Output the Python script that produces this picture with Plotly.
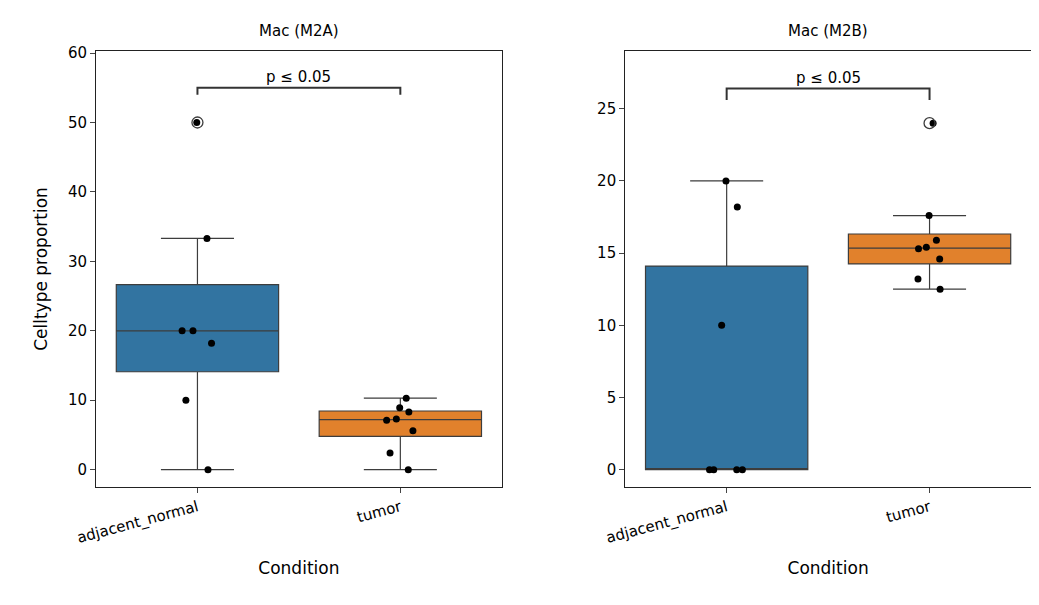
import numpy as np
import plotly.graph_objects as go

categories = ["adjacent_normal", "tumor"]
m2a_normal = [50, 33.3, 20, 20, 18.2, 10, 0]
m2a_tumor = [10.3, 8.9, 8.3, 7.3, 7.1, 5.6, 2.4, 0]
m2b_normal = [20, 18.2, 10, 0, 0, 0, 0]
m2b_tumor = [24, 17.6, 15.9, 15.4, 15.3, 14.6, 13.2, 12.5]
titles = ["Mac (M2A)", "Mac (M2B)"]
colors = ["#3274a1", "#e1812c"]

fig = go.Figure()
panels = [[m2a_normal, m2a_tumor], [m2b_normal, m2b_tumor]]

for p, groups in enumerate(panels):
    xa = "x" if p == 0 else "x2"
    ya = "y" if p == 0 else "y2"
    for i, vals in enumerate(groups):
        v = np.array(vals, dtype=float)
        q1, med, q3 = np.percentile(v, [25, 50, 75])
        iqr = q3 - q1
        inside = v[(v >= q1 - 1.5 * iqr) & (v <= q3 + 1.5 * iqr)]
        out = v[(v < q1 - 1.5 * iqr) | (v > q3 + 1.5 * iqr)]
        fig.add_trace(go.Box(
            x=[i], q1=[q1], median=[med], q3=[q3],
            lowerfence=[inside.min()], upperfence=[inside.max()],
            boxpoints=False, fillcolor=colors[i],
            line=dict(color="#3d3d3d", width=1.2), width=0.8, whiskerwidth=0.45,
            showlegend=False, xaxis=xa, yaxis=ya))
        if len(out):
            fig.add_trace(go.Scatter(
                x=[i] * len(out), y=out, mode="markers", showlegend=False,
                marker=dict(symbol="circle-open", size=11, color="#3d3d3d",
                            line=dict(width=1.3)), xaxis=xa, yaxis=ya))
        # strip points
        fig.add_trace(go.Box(
            x=[i] * len(vals), y=vals, boxpoints="all", jitter=0.25, pointpos=0,
            fillcolor="rgba(0,0,0,0)", line=dict(color="rgba(0,0,0,0)", width=0),
            marker=dict(color="black", size=7), width=0.8,
            showlegend=False, hoverinfo="y", xaxis=xa, yaxis=ya))

yranges = [[-2.5, 60.3], [-1.2, 29]]
ydticks = [10, 5]
brackets = [(54, 55), (25.6, 26.4)]
domains = [[0, 0.434], [0.566, 1]]
for p in range(2):
    sfx = "" if p == 0 else "2"
    fig.update_layout(**{
        f"xaxis{sfx}": dict(domain=domains[p], anchor=f"y{sfx}", range=[-0.5, 1.5],
                            tickvals=[0, 1], ticktext=categories, tickangle=-15,
                            showline=True, mirror=True, linecolor="#222",
                            ticks="outside", showgrid=False, zeroline=False,
                            title=dict(text="Condition", font=dict(size=17)),
                            tickfont=dict(size=15)),
        f"yaxis{sfx}": dict(anchor=f"x{sfx}", range=yranges[p], dtick=ydticks[p],
                            showline=True, mirror=True, linecolor="#222",
                            ticks="outside", showgrid=False, zeroline=False,
                            tickfont=dict(size=15)),
    })
    xref, yref = f"x{sfx}", f"y{sfx}"
    lo, hi = brackets[p]
    fig.add_shape(type="path", xref=xref, yref=yref,
                  path=f"M 0,{lo} L 0,{hi} L 1,{hi} L 1,{lo}",
                  line=dict(color="#333", width=2))
    fig.add_annotation(x=0.5, y=hi, xref=xref, yref=yref, text="p ≤ 0.05",
                       showarrow=False, yanchor="bottom", font=dict(size=15))
    fig.add_annotation(x=0.5, y=1.02, xref=f"{xref} domain", yref="paper",
                       text=titles[p], showarrow=False, yanchor="bottom",
                       font=dict(size=15))

fig.update_layout(yaxis_title=dict(text="Celltype proportion", font=dict(size=17)),
                  width=1039, height=605, plot_bgcolor="white", paper_bgcolor="white",
                  font=dict(family="DejaVu Sans", color="black"),
                  margin=dict(l=88, r=16, t=43, b=126))
fig.write_html("out.html")
